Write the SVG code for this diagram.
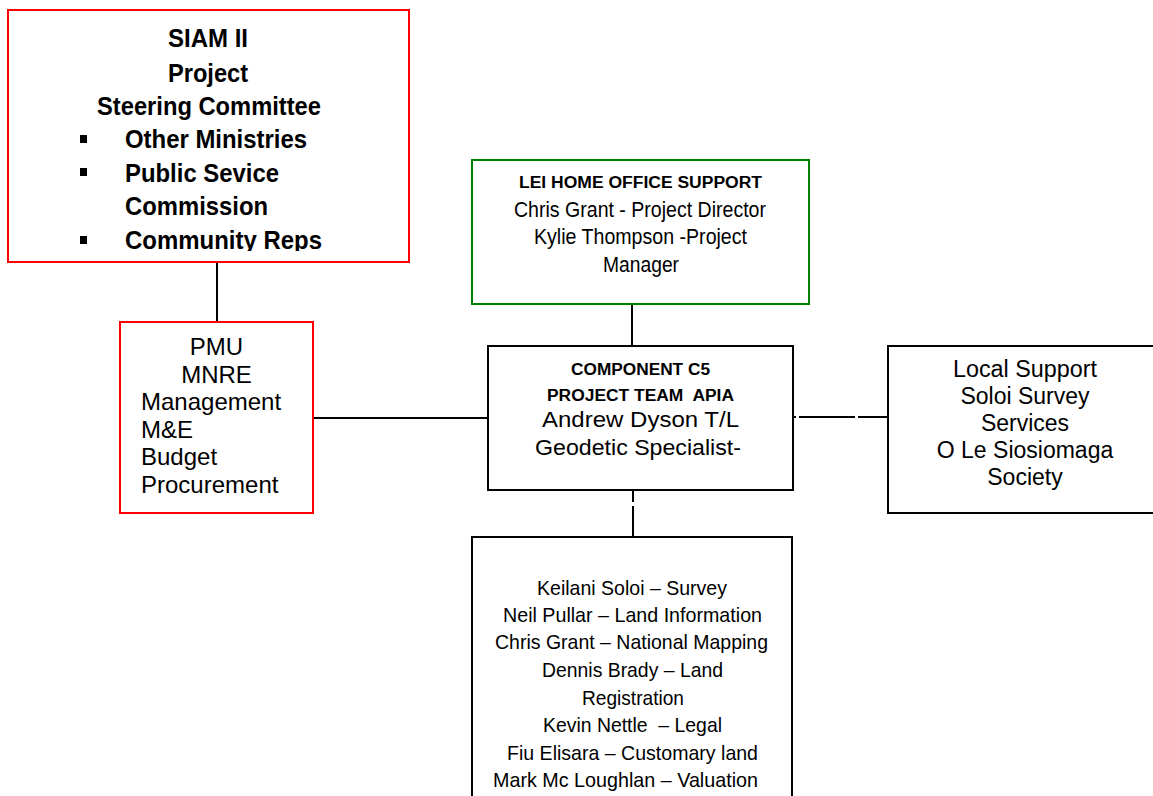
<svg xmlns="http://www.w3.org/2000/svg" width="1153" height="796" viewBox="0 0 1153 796">
<style>
.box{fill:#fff;stroke-width:2}
.red{stroke:#ff0000}
.green{stroke:#008000}
.blk{stroke:#000}
.conn line{stroke:#000;stroke-width:2}
text{fill:#000;white-space:pre}
.nb{font-family:"Liberation Sans Narrow","Liberation Sans",Arial,sans-serif;font-weight:bold}
.nr{font-family:"Liberation Sans Narrow","Liberation Sans",Arial,sans-serif}
.r{font-family:"Liberation Sans",Arial,sans-serif}
.c{text-anchor:middle}
</style>
<defs>
<clipPath id="clip1"><rect x="8" y="10" width="401" height="241"/></clipPath>
</defs>
<rect width="1153" height="796" fill="#fff"/>
<g class="conn">
<line x1="217" y1="262" x2="217" y2="322"/>
<line x1="313" y1="418" x2="488" y2="418"/>
<line x1="632" y1="304" x2="632" y2="346"/>
<line x1="794" y1="417" x2="796" y2="417"/>
<line x1="799" y1="417" x2="855" y2="417"/>
<line x1="858" y1="417" x2="888" y2="417"/>
<line x1="633" y1="491" x2="633" y2="502"/>
<line x1="633" y1="506" x2="633" y2="537"/>
</g>
<g id="steering">
<rect class="box red" x="8" y="10" width="401" height="252"/>
<g clip-path="url(#clip1)">
<text class="nb c" font-size="25.5" x="208" y="47" textLength="80" lengthAdjust="spacingAndGlyphs">SIAM II</text>
<text class="nb c" font-size="25.5" x="208" y="82" textLength="80" lengthAdjust="spacingAndGlyphs">Project</text>
<text class="nb c" font-size="25.5" x="209" y="115" textLength="224" lengthAdjust="spacingAndGlyphs">Steering Committee</text>
<rect x="80" y="135" width="7" height="8"/>
<text class="nb" font-size="25.5" x="125" y="148" textLength="182" lengthAdjust="spacingAndGlyphs">Other Ministries</text>
<rect x="80" y="168" width="7" height="8"/>
<text class="nb" font-size="25.5" x="125" y="182" textLength="154" lengthAdjust="spacingAndGlyphs">Public Sevice</text>
<text class="nb" font-size="25.5" x="125" y="215" textLength="143" lengthAdjust="spacingAndGlyphs">Commission</text>
<rect x="80" y="236" width="7" height="8"/>
<text class="nb" font-size="25.5" x="125" y="249" textLength="197" lengthAdjust="spacingAndGlyphs">Community Reps</text>
</g>
</g>
<g id="lei">
<rect class="box green" x="472" y="160" width="337" height="144"/>
<text class="nb c" font-size="16" x="640.5" y="188" textLength="243" lengthAdjust="spacingAndGlyphs">LEI HOME OFFICE SUPPORT</text>
<text class="nr c" font-size="21.5" x="640" y="217" textLength="252" lengthAdjust="spacingAndGlyphs">Chris Grant - Project Director</text>
<text class="nr c" font-size="21.5" x="640.5" y="244" textLength="213" lengthAdjust="spacingAndGlyphs">Kylie Thompson -Project</text>
<text class="nr c" font-size="21.5" x="641" y="272" textLength="76" lengthAdjust="spacingAndGlyphs">Manager</text>
</g>
<g id="pmu">
<rect class="box red" x="120" y="322" width="193" height="191"/>
<text class="r c" font-size="24" x="216.5" y="355">PMU</text>
<text class="r c" font-size="24" x="216.5" y="383">MNRE</text>
<text class="r" font-size="24" x="141" y="410">Management</text>
<text class="r" font-size="24" x="141" y="438">M&amp;E</text>
<text class="r" font-size="24" x="141" y="465">Budget</text>
<text class="r" font-size="24" x="141" y="493">Procurement</text>
</g>
<g id="component">
<rect class="box blk" x="488" y="346" width="305" height="144"/>
<text class="nb c" font-size="16" x="640.5" y="375" textLength="139" lengthAdjust="spacingAndGlyphs">COMPONENT C5</text>
<text class="nb c" font-size="16" x="640.5" y="401" textLength="187" lengthAdjust="spacingAndGlyphs">PROJECT TEAM  APIA</text>
<text class="r c" font-size="22" x="640.5" y="427" textLength="197" lengthAdjust="spacingAndGlyphs">Andrew Dyson T/L</text>
<text class="r c" font-size="22" x="638" y="455" textLength="206" lengthAdjust="spacingAndGlyphs">Geodetic Specialist-</text>
</g>
<g id="local">
<rect class="box blk" x="888" y="346" width="280" height="167"/>
<text class="r c" font-size="23" x="1025" y="377" textLength="144" lengthAdjust="spacingAndGlyphs">Local Support</text>
<text class="r c" font-size="23" x="1025" y="404">Soloi Survey</text>
<text class="r c" font-size="23" x="1025" y="431">Services</text>
<text class="r c" font-size="23" x="1025" y="458">O Le Siosiomaga</text>
<text class="r c" font-size="23" x="1025" y="485">Society</text>
</g>
<g id="team">
<rect class="box blk" x="472" y="537" width="320" height="280"/>
<text class="nr c" font-size="21" x="632" y="595" textLength="190" lengthAdjust="spacingAndGlyphs">Keilani Soloi – Survey</text>
<text class="nr c" font-size="21" x="632.5" y="622" textLength="259" lengthAdjust="spacingAndGlyphs">Neil Pullar – Land Information</text>
<text class="nr c" font-size="21" x="631.5" y="649" textLength="273" lengthAdjust="spacingAndGlyphs">Chris Grant – National Mapping</text>
<text class="nr c" font-size="21" x="632.5" y="677" textLength="181" lengthAdjust="spacingAndGlyphs">Dennis Brady – Land</text>
<text class="nr c" font-size="21" x="633" y="705" textLength="102" lengthAdjust="spacingAndGlyphs">Registration</text>
<text class="nr c" font-size="21" x="632.5" y="732" textLength="179" lengthAdjust="spacingAndGlyphs">Kevin Nettle  – Legal</text>
<text class="nr c" font-size="21" x="632.5" y="760" textLength="251" lengthAdjust="spacingAndGlyphs">Fiu Elisara – Customary land</text>
<text class="nr c" font-size="21" x="625.5" y="787" textLength="265" lengthAdjust="spacingAndGlyphs">Mark Mc Loughlan – Valuation</text>
</g>
</svg>
